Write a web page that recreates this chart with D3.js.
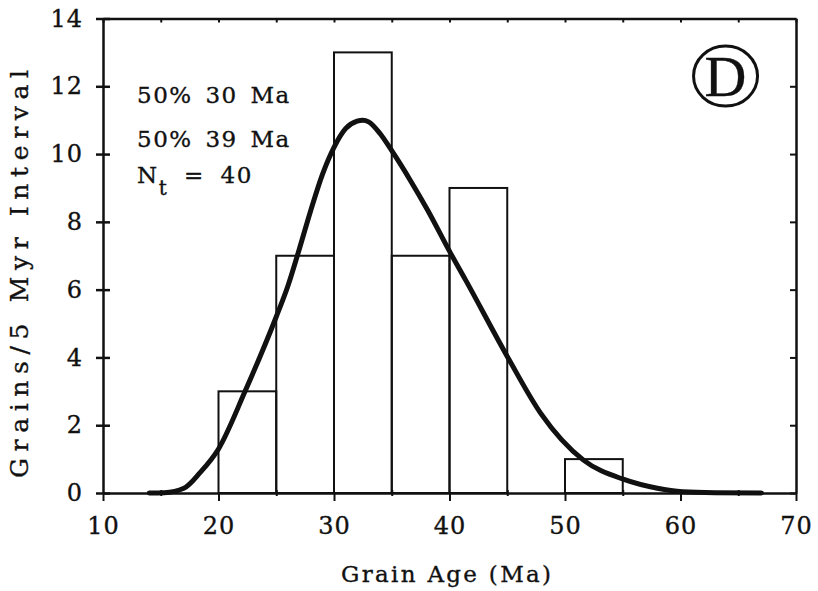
<!DOCTYPE html>
<html>
<head>
<meta charset="utf-8">
<script src="https://cdn.jsdelivr.net/npm/d3@7"></script>
<style>
  body { margin: 0; background: #fff; }
  svg text { font-family: 'DejaVu Serif', serif; fill: #111; stroke: #111; stroke-width: 0.35px; }
  .axis path, .axis line { stroke: #111; }
</style>
</head>
<body>
<div class="graph"><svg></svg></div>
<script>
// histogram bins (5 Myr wide) and grain counts
const binStart = [20, 25, 30, 35, 40, 50]
const binCount = [3, 7, 13, 7, 9, 1]
const binWidth = 5

// probability density curve
const curveAge = [14, 15.3, 17.0, 18.4, 20.0, 22.3, 25.0, 26, 27, 28, 29, 30, 31, 32, 32.5, 33, 34, 35, 36.6, 38.1, 40.1, 41.4, 45.1, 47.9, 51.6, 55.1, 58.0, 60.2, 63, 67]
const curveCount = [0, 0.01, 0.14, 0.6, 1.3, 3.0, 5.2, 6.1, 7.2, 8.35, 9.4, 10.2, 10.75, 10.97, 11.0, 10.95, 10.6, 10.1, 9.23, 8.35, 7.07, 6.28, 3.97, 2.35, 0.97, 0.40, 0.14, 0.04, 0.01, 0]

const xTicks = [10, 15, 20, 25, 30, 35, 40, 45, 50, 55, 60, 65, 70]
const yTicks = [0, 2, 4, 6, 8, 10, 12, 14]
const statLines = ['50% 30 Ma', '50% 39 Ma']
const nTotal = 40

const width = 818
const height = 591
const margin = { top: 18.5, right: 22, bottom: 98, left: 103 }
const plotW = width - margin.left - margin.right
const plotH = height - margin.top - margin.bottom

const svg = d3.select('.graph').select('svg')
  .attr('width', width)
  .attr('height', height)

const g = svg.append('g')
  .attr('transform', 'translate(' + margin.left + ',' + margin.top + ')')

const x = d3.scaleLinear().domain([10, 70]).range([0, plotW])
const y = d3.scaleLinear().domain([0, 14]).range([plotH, 0])

// bars
g.selectAll('rect.bar')
  .data(binStart)
  .join('rect')
  .attr('class', 'bar')
  .attr('x', d => x(d))
  .attr('y', (d, i) => y(binCount[i]))
  .attr('width', d => x(d + binWidth) - x(d))
  .attr('height', (d, i) => y(0) - y(binCount[i]))
  .attr('fill', 'none')
  .attr('stroke', '#111')
  .attr('stroke-width', 2)

// density curve
const line = d3.line()
  .x(d => x(d[0]))
  .y(d => y(d[1]))
  .curve(d3.curveMonotoneX)

g.append('path')
  .datum(curveAge.map((a, i) => [a, curveCount[i]]))
  .attr('d', line)
  .attr('fill', 'none')
  .attr('stroke', '#111')
  .attr('stroke-width', 5)
  .attr('stroke-linecap', 'round')

// axes
const isMajor = d => d % 10 === 0

const xAxis = g.append('g')
  .attr('class', 'x axis')
  .attr('transform', 'translate(0,' + plotH + ')')
  .call(d3.axisBottom(x).tickValues(xTicks).tickSizeOuter(0)
    .tickFormat(d => isMajor(d) ? d : ''))
xAxis.selectAll('.tick line')
  .attr('y1', d => isMajor(d) ? 0 : -3)
  .attr('y2', d => isMajor(d) ? 8 : 3)
  .attr('stroke-width', 2)
xAxis.selectAll('.tick text')
  .attr('y', 24)
  .attr('font-size', 24)
  .attr('letter-spacing', 1)

const xTop = g.append('g')
  .attr('class', 'x axis')
  .call(d3.axisTop(x).tickValues(xTicks).tickSizeOuter(0).tickFormat(''))
xTop.selectAll('.tick line')
  .attr('y1', 0)
  .attr('y2', 4)
  .attr('stroke-width', 2)

const yAxis = g.append('g')
  .attr('class', 'y axis')
  .call(d3.axisLeft(y).tickValues(yTicks).tickSizeOuter(0))
yAxis.selectAll('.tick line')
  .attr('x1', -7)
  .attr('x2', 7)
  .attr('stroke-width', 2.5)
yAxis.selectAll('.tick text')
  .attr('x', -20)
  .attr('font-size', 24)
  .attr('letter-spacing', 1)

const yRight = g.append('g')
  .attr('class', 'y axis')
  .attr('transform', 'translate(' + plotW + ',0)')
  .call(d3.axisRight(y).tickValues(yTicks).tickSizeOuter(0).tickFormat(''))
yRight.selectAll('.tick line')
  .attr('x1', -6)
  .attr('x2', 0)
  .attr('stroke-width', 2)

g.selectAll('.axis path.domain')
  .attr('stroke-width', 2.5)
g.selectAll('.axis text').attr('fill', '#111')

// axis titles
g.append('text')
  .text('Grain Age (Ma)')
  .attr('x', 238)
  .attr('y', plotH + 89)
  .attr('font-size', 23)
  .attr('textLength', 210)
  .attr('lengthAdjust', 'spacing')

g.append('text')
  .text('Grains/5 Myr Interval')
  .attr('transform', 'rotate(-90)')
  .attr('x', -(478 - margin.top))
  .attr('y', 28 - margin.left)
  .attr('font-size', 25)
  .attr('textLength', 408)
  .attr('lengthAdjust', 'spacing')

// stats annotation
const stats = g.append('g').attr('transform', 'translate(34,0)')
statLines.forEach((s, i) => {
  stats.append('text')
    .text(s)
    .attr('y', 84 + i * 44)
    .attr('font-size', 23)
    .attr('letter-spacing', 1.5)
    .attr('word-spacing', 4)
})
const nt = stats.append('text')
  .attr('y', 164)
  .attr('font-size', 23)
  .attr('letter-spacing', 1.5)
nt.append('tspan').text('N')
nt.append('tspan').text('t').attr('dy', 12).attr('font-size', 20)
nt.append('tspan').text(' = ' + nTotal).attr('dy', -12).attr('word-spacing', 7)

// panel label
const badge = g.append('g').attr('transform', 'translate(' + x(63.9) + ',' + y(12.3) + ')')
badge.append('ellipse')
  .attr('rx', 32)
  .attr('ry', 30)
  .attr('fill', 'none')
  .attr('stroke', '#111')
  .attr('stroke-width', 3)
badge.append('text')
  .text('D')
  .attr('text-anchor', 'middle')
  .attr('y', 20)
  .attr('font-size', 58)
  .style('font-family', "'Liberation Serif', serif")
</script>
</body>
</html>
